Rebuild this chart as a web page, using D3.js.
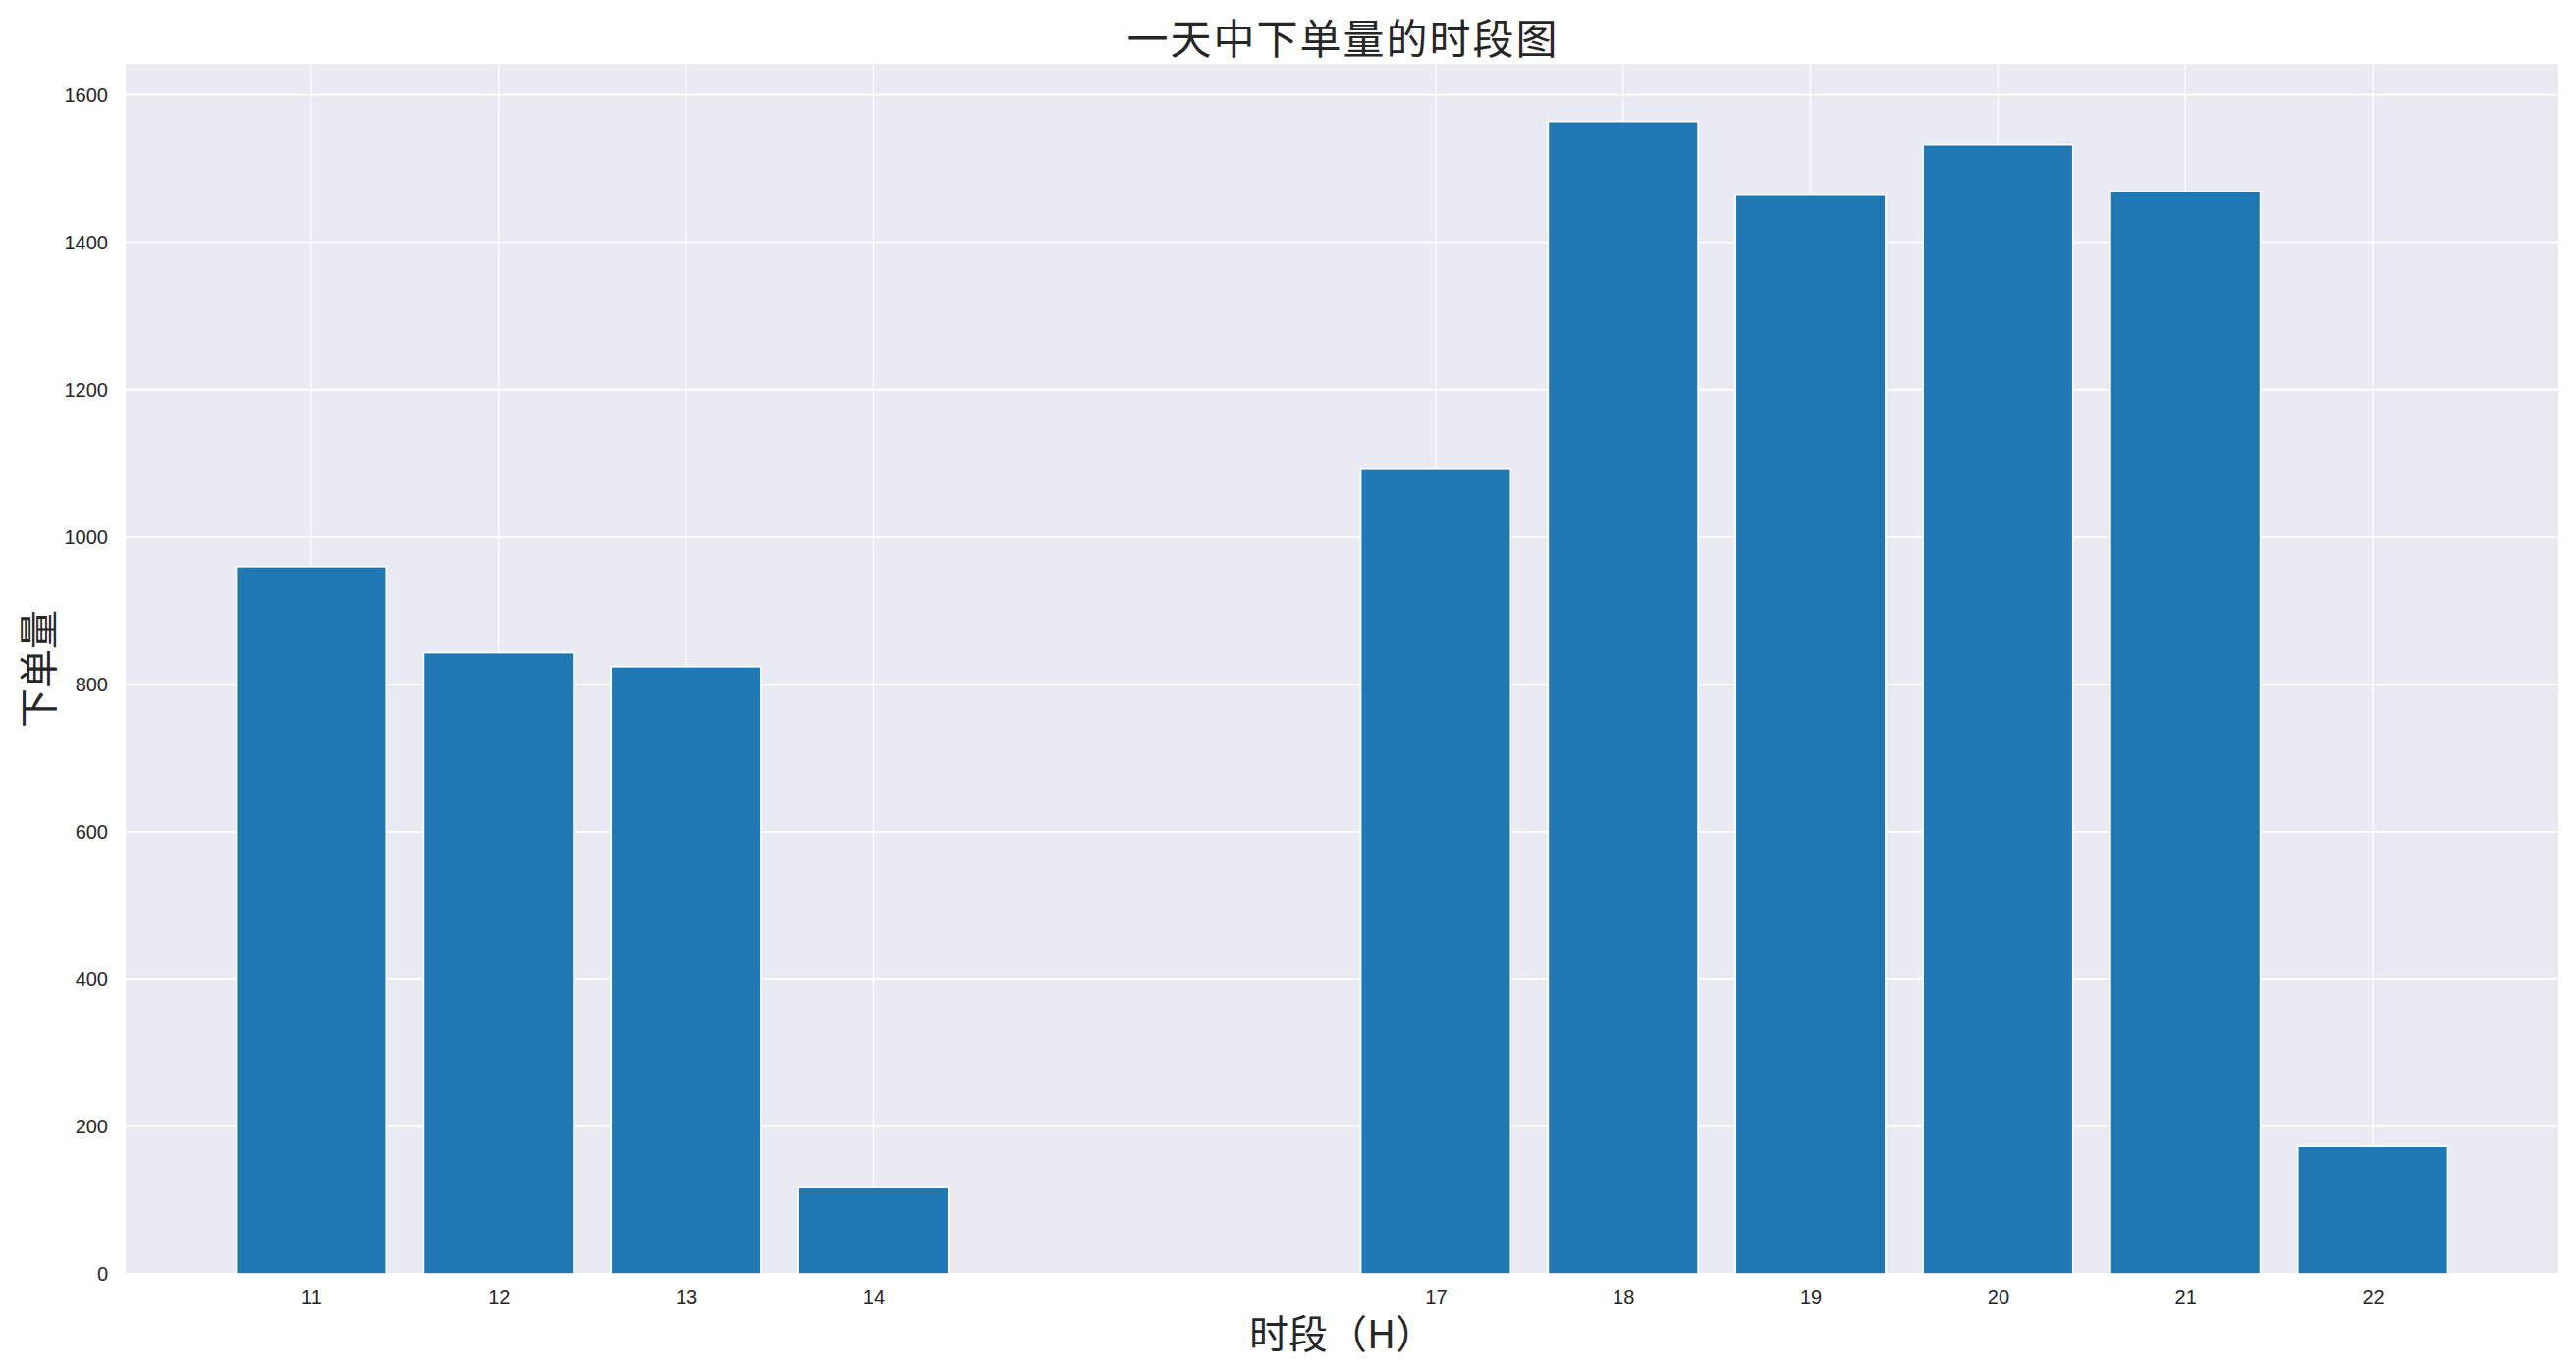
<!DOCTYPE html>
<html>
<head>
<meta charset="utf-8">
<script src="https://cdn.jsdelivr.net/npm/d3@7"></script>
<style>
body{margin:0;background:#fff;}
.tick text{font-family:"Liberation Sans",Arial,sans-serif;font-size:20px;fill:#262626;}
.cn{font-family:"Noto Sans CJK SC",sans-serif;fill:#262626;}
</style>
</head>
<body>
<div id="chart"></div>
<script>
// hours of the day and orders placed in each
var hours = [11,12,13,14,17,18,19,20,21,22]
var orders = [960,843,824,117,1092,1564,1464,1532,1469,173]
var yTicks = [0,200,400,600,800,1000,1200,1400,1600]

var title = '一天中下单量的时段图'
var xLabel = '时段（H）'
var yLabel = '下单量'

var width = 2623
var height = 1395
var margin = {top:65,right:18,bottom:98,left:128}

var svg = d3.select('#chart')
			.append('svg')
			.attr('width',width)
			.attr('height',height)

svg.append('rect')
	.attr('width',width)
	.attr('height',height)
	.attr('fill','#ffffff')

// matplotlib style autoscale: bar width 0.8 and 5% margins
var xMin = d3.min(hours)-0.4, xMax = d3.max(hours)+0.4
var xPad = (xMax-xMin)*0.05
var x = d3.scaleLinear()
			.domain([xMin-xPad,xMax+xPad])
			.range([margin.left,width-margin.right])

var y = d3.scaleLinear()
			.domain([0,d3.max(orders)*1.05])
			.range([height-margin.bottom,margin.top])

svg.append('rect')
	.attr('x',margin.left)
	.attr('y',margin.top)
	.attr('width',width-margin.left-margin.right)
	.attr('height',height-margin.top-margin.bottom)
	.attr('fill','#eaeaf2')

// grid
svg.append('g')
	.selectAll('line')
	.data(yTicks)
	.enter()
	.append('line')
	.attr('x1',margin.left)
	.attr('x2',width-margin.right)
	.attr('y1',function(d){return y(d)})
	.attr('y2',function(d){return y(d)})
	.attr('stroke','#ffffff')
	.attr('stroke-width',1.8)

svg.append('g')
	.selectAll('line')
	.data(hours)
	.enter()
	.append('line')
	.attr('x1',function(d){return x(d)})
	.attr('x2',function(d){return x(d)})
	.attr('y1',margin.top)
	.attr('y2',height-margin.bottom)
	.attr('stroke','#ffffff')
	.attr('stroke-width',1.6)
	.attr('stroke-opacity',0.8)

// bars
svg.append('g')
	.selectAll('rect')
	.data(hours)
	.enter()
	.append('rect')
	.attr('x',function(d){return x(d-0.4)})
	.attr('width',function(d){return x(d+0.4)-x(d-0.4)})
	.attr('y',function(d,i){return y(orders[i])})
	.attr('height',function(d,i){return y(0)-y(orders[i])})
	.attr('fill','#1f77b4')
	.attr('stroke','#ffffff')
	.attr('stroke-width',1.6)

// axes
var xAxis = svg.append('g')
	.attr('transform','translate(0,'+(height-margin.bottom)+')')
	.call(d3.axisBottom(x).tickValues(hours).tickFormat(d3.format('d')).tickSize(0).tickPadding(17))
xAxis.select('.domain').remove()

var yAxis = svg.append('g')
	.attr('transform','translate('+margin.left+',0)')
	.call(d3.axisLeft(y).tickValues(yTicks).tickFormat(d3.format('d')).tickSize(0).tickPadding(18))
yAxis.select('.domain').remove()

// labels
svg.append('text')
	.attr('class','cn')
	.attr('x',(margin.left+width-margin.right)/2+1)
	.attr('y',55)
	.attr('text-anchor','middle')
	.style('font-size','42px')
	.style('letter-spacing','2px')
	.text(title)

svg.append('text')
	.attr('class','cn')
	.attr('x',(margin.left+width-margin.right)/2)
	.attr('y',1373)
	.attr('text-anchor','middle')
	.style('font-size','40px')
	.text(xLabel)

svg.append('text')
	.attr('class','cn')
	.attr('transform','translate(54,'+((margin.top+height-margin.bottom)/2)+') rotate(-90)')
	.attr('text-anchor','middle')
	.style('font-size','40px')
	.text(yLabel)
</script>
</body>
</html>
